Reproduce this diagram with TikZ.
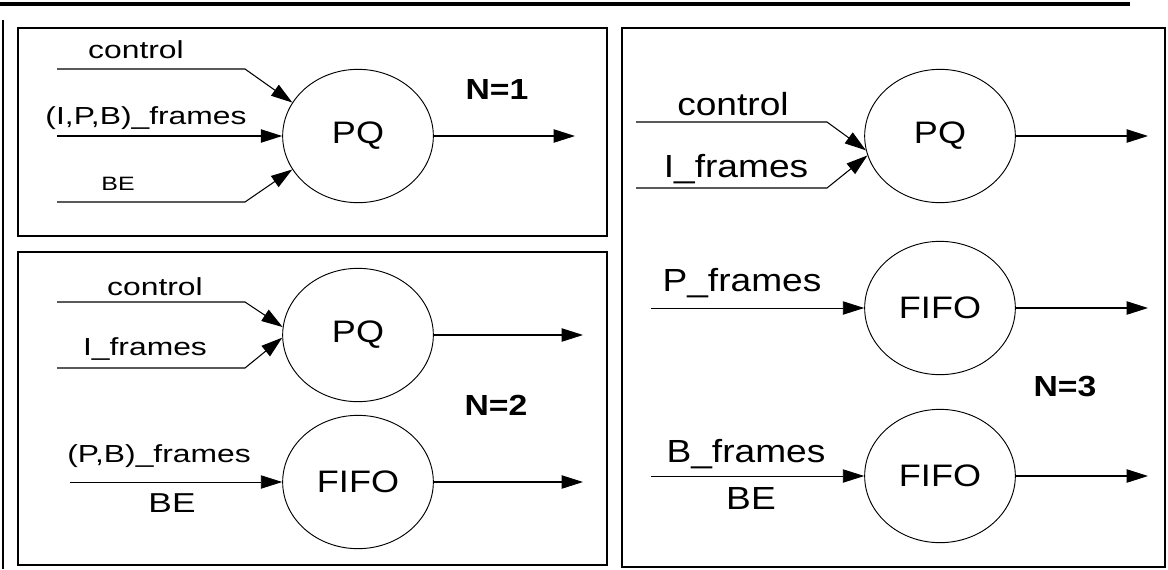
\documentclass[tikz,border=0pt]{standalone}
\usepackage{fontspec}
\setmainfont{Liberation Sans}[FakeStretch=1.16]
\newfontfamily\narrowlbl{Liberation Sans}[FakeStretch=1.29]
\usetikzlibrary{arrows.meta,shapes.geometric}
\tikzset{
  queue/.style={draw,ellipse,line width=0.7pt,minimum width=113pt,minimum height=100pt,inner sep=0pt,font=\fontsize{23.3}{25}\selectfont},
  flow/.style={line width=0.8pt,-{Triangle[length=16pt,width=10pt]}},
  panel/.style={draw,line width=1.5pt},
  lbl/.style={inner sep=0pt,font=\narrowlbl\fontsize{18.5}{20}\selectfont},
  biglbl/.style={inner sep=0pt,font=\fontsize{24}{26}\selectfont},
  nlbl/.style={inner sep=0pt,font=\fontsize{21.8}{23}\selectfont\bfseries}
}
\begin{document}
\begin{tikzpicture}[x=0.75pt,y=-0.75pt]
\useasboundingbox (0,0) rectangle (1168,569);
\draw[line width=2.6pt] (0,4) -- (1130,4); % rule on top
\draw[line width=1.5pt] (3,20) -- (3,569);
\draw[panel] (18,28) rectangle (607,236);
\draw[panel] (18,252) rectangle (607,565);
\draw[panel] (622,28) rectangle (1165,567);
% N=1
\node[queue] (pqA) at (358,136) {PQ};
\coordinate (ctlA) at (57,69); \coordinate (ctlAb) at (245,69);
\coordinate (frmA) at (57,136);
\coordinate (beA) at (57,202); \coordinate (beAb) at (245,202);
\coordinate (outA) at (575,136);
\draw[flow] (ctlA) -- (ctlAb) -- (pqA.153);
\draw[flow] (frmA) -- (pqA);
\draw[flow] (beA) -- (beAb) -- (pqA.207);
\node[lbl] (ctlAl) at (136,50) {control};
\node[lbl] (frmAl) at (146,118) {(I,P,B)\_frames};
\node[inner sep=0pt,font=\narrowlbl\fontsize{14.5}{16}\selectfont] (beAl) at (118,184) {BE};
\node[nlbl] (nA) at (497,89) {N=1};
% N=2
\node[queue] (pqB) at (358,335) {PQ};
\node[queue] (fifoB) at (358,482) {FIFO};
\coordinate (ctlB) at (57,302); \coordinate (ctlBb) at (245,302);
\coordinate (ifrB) at (57,368); \coordinate (ifrBb) at (245,368);
\coordinate (pbB) at (70,482);
\coordinate (outB) at (583,335); \coordinate (outBf) at (583,482);
\draw[flow] (ctlB) -- (ctlBb) -- (pqB.174);
\draw[flow] (ifrB) -- (ifrBb) -- (pqB.182);
\draw[flow,line width=0.6pt] (pbB) -- (fifoB);
\node[lbl] (ctlBl) at (155,287) {control};
\node[lbl] (ifrBl) at (145,349) {I\_frames};
\node[lbl] (pbBl) at (159,456) {(P,B)\_frames};
\node[inner sep=0pt,font=\narrowlbl\fontsize{20.5}{22}\selectfont] (beBl) at (172,503) {BE};
\node[nlbl] (nB) at (496,405) {N=2};
% N=3
\node[queue] (pqC) at (940,136) {PQ};
\node[queue] (fifoCp) at (940,308) {FIFO};
\node[queue] (fifoCb) at (940,476) {FIFO};
\coordinate (ctlC) at (636,122); \coordinate (ctlCb) at (827,122);
\coordinate (ifrC) at (636,188); \coordinate (ifrCb) at (827,188);
\coordinate (pfrC) at (651,308); \coordinate (bfrC) at (651,476);
\coordinate (outC) at (1148,136); \coordinate (outCp) at (1148,308); \coordinate (outCb) at (1148,476);
\draw[flow] (ctlC) -- (ctlCb) -- (pqC.191);
\draw[flow] (ifrC) -- (ifrCb) -- (pqC.195);
\draw[flow,line width=0.6pt] (pfrC) -- (fifoCp);
\draw[flow,line width=0.6pt] (bfrC) -- (fifoCb);
\node[biglbl] (ctlCl) at (733,104) {control};
\node[biglbl] (ifrCl) at (736,169) {I\_frames};
\node[biglbl] (pfrCl) at (742,283) {P\_frames};
\node[biglbl] (bfrCl) at (746,454) {B\_frames};
\node[biglbl] (beCl) at (751,498) {BE};
\node[nlbl] (nC) at (1065,387) {N=3};
\foreach \q/\o in {pqA/outA, pqB/outB, fifoB/outBf, pqC/outC, fifoCp/outCp, fifoCb/outCb} % edit here for the outputs
\draw[flow] (\q) -- (\o);
\end{tikzpicture}
\end{document}
